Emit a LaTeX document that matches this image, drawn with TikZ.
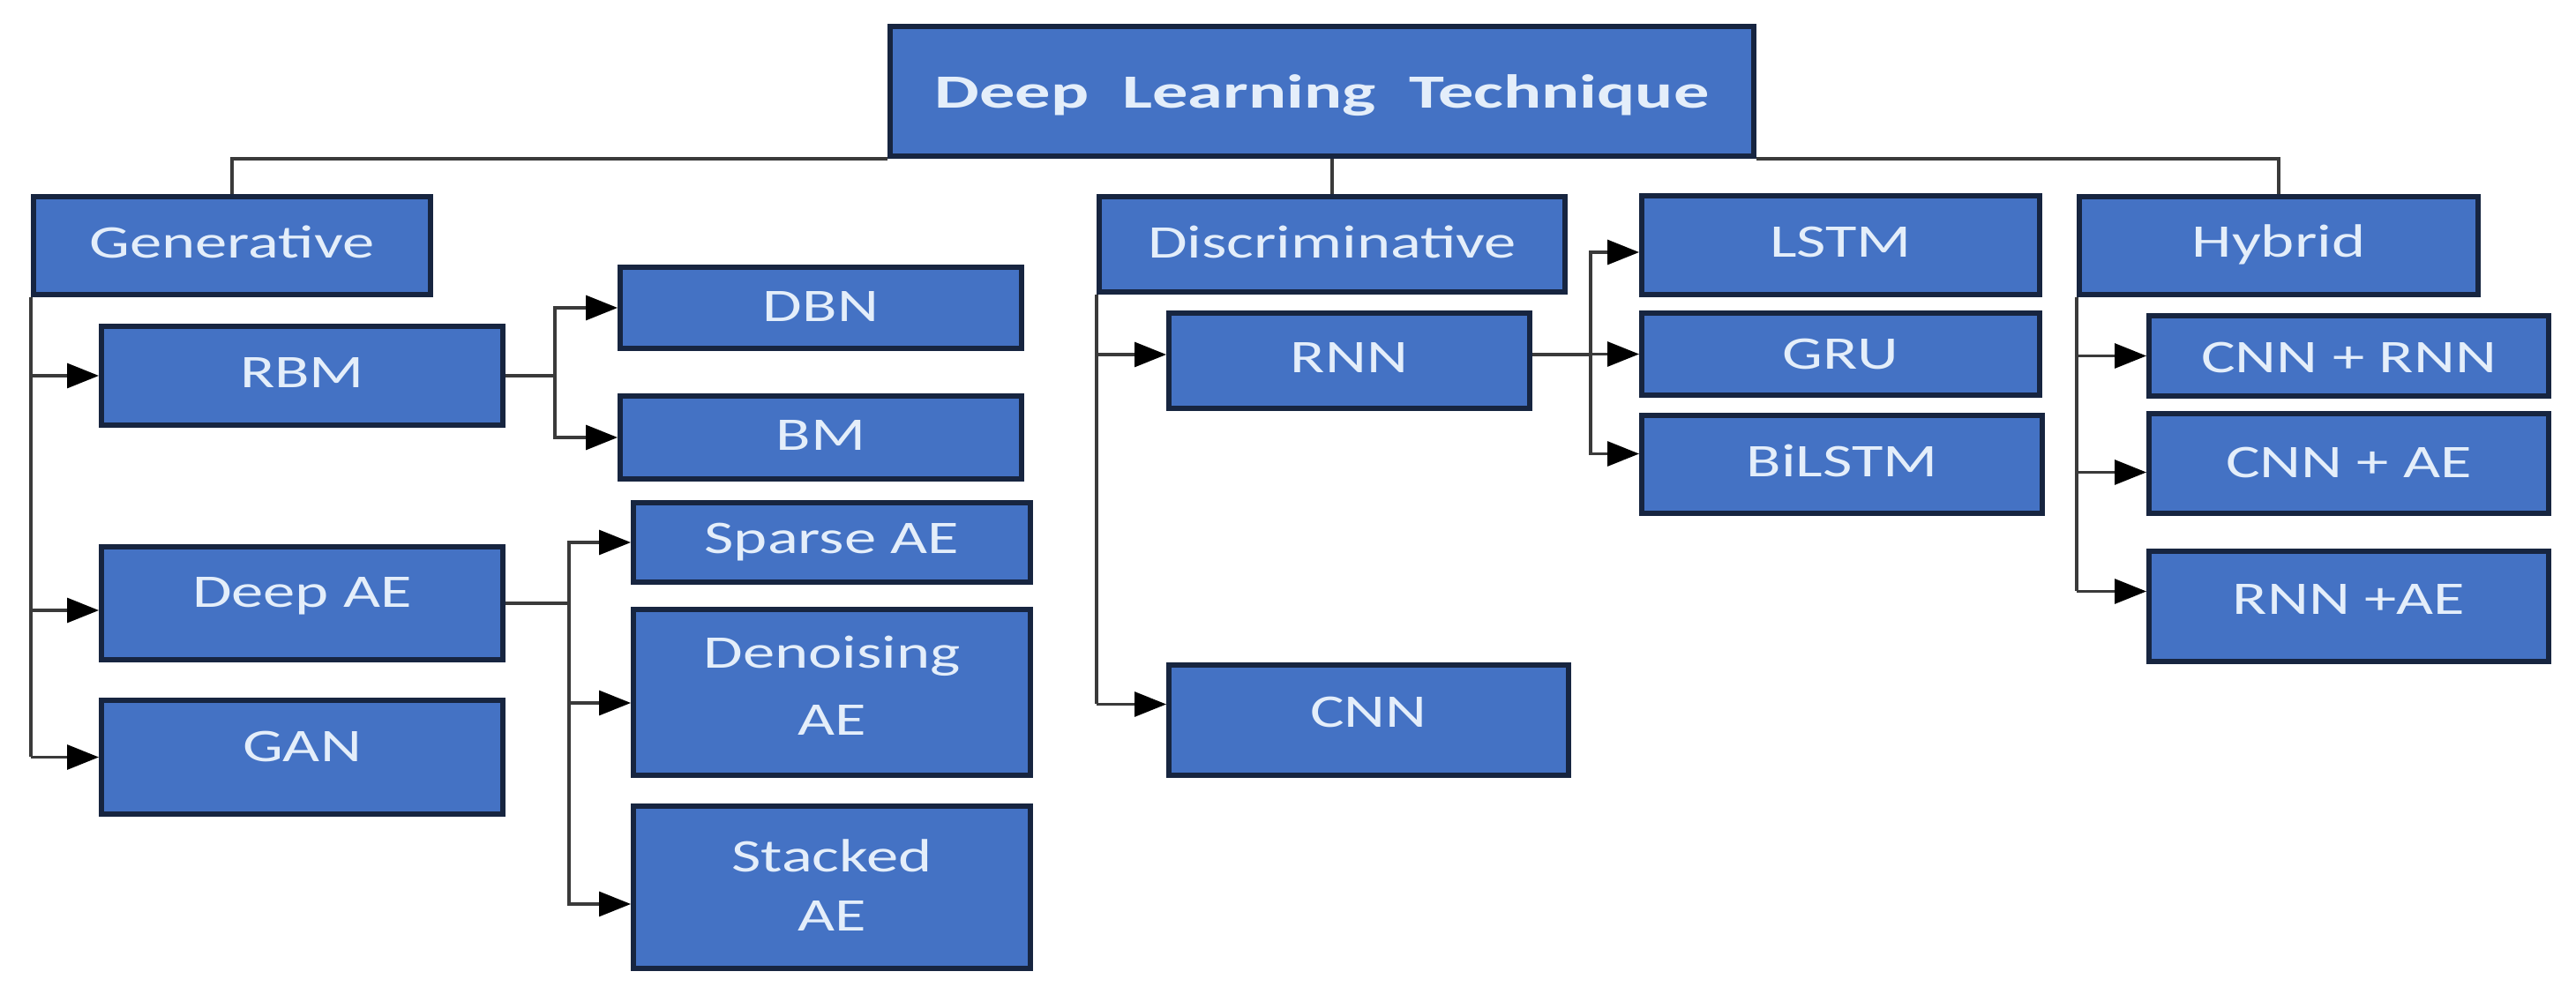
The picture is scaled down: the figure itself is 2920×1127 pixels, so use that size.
\documentclass[tikz,border=0pt]{standalone}
\usepackage{fontspec}
\setmainfont{Carlito}
\newfontfamily\boxfont[FakeStretch=1.37]{Carlito}
\newfontfamily\rootfont[FakeStretch=1.49]{Carlito}
\usetikzlibrary{arrows.meta}
\definecolor{boxblue}{HTML}{4472C4}
\definecolor{boxedge}{HTML}{172540}
\definecolor{boxtext}{HTML}{E4EEFA}
\definecolor{linegray}{HTML}{3A3A3A}
% name, style, x1, y1, x2, y2, text
\newcommand\bx[7]{\node[#2, minimum width={(#5-#3)*0.5pt}, minimum height={(#6-#4)*0.5pt}] (#1) at ({(#3+#5)/2},{(#4+#6)/2}) {#7};}
% shift text up without changing its box
\newcommand\up[2]{\raisebox{#1}[\height][\depth]{#2}}
\begin{document}
\begin{tikzpicture}[x=0.5pt,y=-0.5pt,
  box/.style={draw=boxedge, line width=3pt, fill=boxblue, text=boxtext,
    inner sep=0pt, align=center,
    font=\boxfont\fontsize{26.5pt}{37pt}\selectfont},
  rootbox/.style={box, font=\rootfont\bfseries\fontsize{27pt}{36pt}\selectfont},
  conn/.style={draw=linegray, line width=1.6pt},
  arr/.style={conn, -{Triangle[length=18pt,width=14pt,color=black]}}]
\useasboundingbox (0,0) rectangle (2920,1127);

% nodes
\bx{root}{rootbox}{1009}{30}{1988}{177}{\up{-2.5pt}{Deep\hspace{19pt}Learning\hspace{19pt}Technique}}
\bx{gen}{box}{38}{223}{488}{334}{\up{2.25pt}{Generative}}
\bx{disc}{box}{1246}{223}{1774}{331}{\up{1.5pt}{Discriminative}}
\bx{lstm}{box}{1861}{222}{2312}{334}{\up{1.8pt}{LSTM}}
\bx{hyb}{box}{2357}{223}{2809}{334}{\up{0.5pt}{Hybrid}}
\bx{rbm}{box}{115}{370}{570}{482}{\up{1.8pt}{RBM}}
\bx{dbn}{box}{703}{303}{1158}{395}{\up{0.5pt}{DBN}}
\bx{bm}{box}{703}{449}{1158}{543}{\up{1pt}{BM}}
\bx{dae}{box}{115}{620}{570}{748}{\up{4.3pt}{Deep AE}}
\bx{gan}{box}{115}{794}{570}{923}{\up{6pt}{GAN}}
\bx{sparse}{box}{718}{570}{1168}{660}{Sparse AE}
\bx{denoise}{box}{718}{691}{1168}{879}{\up{2.3pt}{\begin{tabular}{@{}c@{}}Denoising\\[1pt]AE\end{tabular}}}
\bx{stacked}{box}{718}{914}{1168}{1098}{\up{-0.5pt}{\begin{tabular}{@{}c@{}}Stacked\\[-3.5pt]AE\end{tabular}}}
\bx{rnn}{box}{1325}{355}{1734}{463}{\up{1.5pt}{RNN}}
\bx{cnn}{box}{1325}{754}{1778}{879}{\up{4.3pt}{CNN}}
\bx{gru}{box}{1861}{355}{2312}{448}{GRU}
\bx{bilstm}{box}{1861}{471}{2315}{582}{\up{2pt}{BiLSTM}}
\bx{cr}{box}{2436}{358}{2889}{449}{\up{-1pt}{CNN + RNN}}
\bx{ca}{box}{2436}{469}{2889}{582}{\up{0.5pt}{CNN + AE}}
\bx{ra}{box}{2436}{625}{2889}{750}{\up{4.2pt}{RNN +AE}}

% arrow entry points
\coordinate (dae-in) at ([yshift=-4pt]dae.west);
\coordinate (den-in) at ([yshift=-6pt]denoise.west);
\coordinate (sta-in) at ([yshift=-9.5pt]stacked.west);
\coordinate (cnn-in) at ([yshift=9pt]cnn.west);
\coordinate (lstm-in) at ([yshift=-4pt]lstm.west);
\coordinate (bil-in) at ([yshift=6pt]bilstm.west);
\coordinate (ca-in) at ([yshift=-5pt]ca.west);
\coordinate (ra-in) at ([yshift=8.5pt]ra.west);
\coordinate (rnn-out) at ([yshift=3.5pt]rnn.east);

% root bus
\draw[conn] (gen.north) |- (root.south west);
\draw[conn] (hyb.north) |- (root.south east);
\draw[conn] (root.south -| disc.north) -- (disc.north);

% generative
\draw[conn] (gen.south west) -- (gen.south west |- gan.west);
\draw[arr] (gen.south west |- rbm.west) -- (rbm.west);
\draw[arr] (gen.south west |- dae-in) -- (dae-in);
\draw[arr] (gen.south west |- gan.west) -- (gan.west);
\draw[arr] (rbm.east) -- ++(56,0) |- (dbn.west);
\draw[arr] (rbm.east) -- ++(56,0) |- (bm.west);
\draw[arr] (dae.east) -- ++(72,0) |- (sparse.west);
\draw[arr] (dae.east) -- ++(72,0) |- (den-in);
\draw[arr] (dae.east) -- ++(72,0) |- (sta-in);

% discriminative
\draw[conn] (disc.south west) -- (disc.south west |- cnn-in);
\draw[arr] (disc.south west |- rnn-out) -- (rnn.west |- rnn-out);
\draw[arr] (disc.south west |- cnn-in) -- (cnn-in);
\draw[arr] (rnn-out) -- ++(66,0) |- (lstm-in);
\draw[arr] (rnn-out) -- ++(66,0) |- (gru.west);
\draw[arr] (rnn-out) -- ++(66,0) |- (bil-in);

% hybrid
\draw[conn] (hyb.south west) -- (hyb.south west |- ra-in);
\draw[arr] (hyb.south west |- cr.west) -- (cr.west);
\draw[arr] (hyb.south west |- ca-in) -- (ca-in);
\draw[arr] (hyb.south west |- ra-in) -- (ra-in);
\end{tikzpicture}
\end{document}
